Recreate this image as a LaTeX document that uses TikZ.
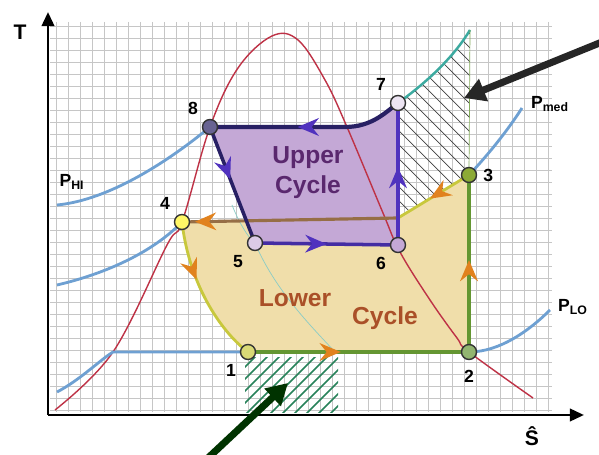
\documentclass[tikz,border=0pt]{standalone}
\usepackage{fontspec}
\setmainfont{Liberation Sans}
\usepackage{tikz}
\usetikzlibrary{arrows.meta, decorations.markings, calc}
\definecolor{upper_fill}{RGB}{196, 168, 214}
\definecolor{upper_line}{RGB}{40, 32, 100}
\definecolor{upper_arrow}{RGB}{80, 50, 190}
\definecolor{lower_fill}{RGB}{240, 222, 170}
\definecolor{lower_line}{RGB}{100, 150, 50}
\definecolor{lower_curve}{RGB}{200, 200, 60}
\definecolor{lower_arrow}{RGB}{225, 130, 30}
\definecolor{band_brown}{RGB}{150, 110, 70}
\definecolor{dome_red}{RGB}{190, 50, 70}
\definecolor{iso_blue}{RGB}{110, 160, 210}
\definecolor{iso_teal}{RGB}{60, 170, 160}
\definecolor{hatch_green}{RGB}{40, 130, 90}
\definecolor{upper_text}{RGB}{90, 40, 110}
\definecolor{lower_text}{RGB}{170, 80, 40}

\begin{document}
\begin{tikzpicture}[
        x=0.02cm, y=-0.02cm,
        font=\bfseries,
        pt/.style={circle, draw=black!80, thick, minimum size=0.3cm, inner sep=0pt},
        gridline/.style={gray!45, thin},
        flowup/.style={postaction={decorate, decoration={markings,
            mark=at position #1 with {\arrow[upper_arrow]{Stealth[length=12pt, width=10pt]}}}}},
        flowlo/.style={postaction={decorate, decoration={markings,
            mark=at position #1 with {\arrow[lower_arrow]{Stealth[length=12pt, width=10pt]}}}}}
    ]
        \useasboundingbox (0, 0) rectangle (599, 455);
        \fill[white] (0, 0) rectangle (599, 455);

        % -------- Griglia --------
        \foreach \gx in {56, 68, ..., 548}{
            \draw[gridline] (\gx, 22) -- (\gx, 412);
        }
        \foreach \gy in {26, 38, ..., 410}{
            \draw[gridline] (50, \gy) -- (552, \gy);
        }

        % -------- Punti del ciclo (pixel) --------
        \coordinate (c1) at (248, 352);
        \coordinate (c2) at (469, 352);
        \coordinate (c3) at (469, 175);
        \coordinate (c4) at (182, 222);
        \coordinate (c5) at (255, 243);
        \coordinate (c6) at (398, 245);
        \coordinate (c7) at (398, 103);
        \coordinate (c8) at (210, 127);
        \coordinate (cj) at (398, 218);
        \coordinate (ck) at (345, 127);
        \coordinate (ctop) at (470, 30);

        % -------- Aree --------
        \fill[lower_fill] (c4) .. controls (190, 290) and (225, 335) .. (c1) -- (c2) -- (c3) -- (cj) -- cycle;
        \fill[upper_fill] (c8) -- (ck) .. controls (372, 127) and (386, 112) .. (c7) -- (c6) -- (c5) -- cycle;

        % tratteggio in alto
        \begin{scope}
            \clip (c7) .. controls (430, 80) and (455, 55) .. (ctop) -- (c3) -- (cj) -- cycle;
            \foreach \k in {170, 184, ..., 450}{
                \draw[black!75, thin] (\k, 0) -- ++(300, 300);
            }
        \end{scope}

        % tratteggio in basso
        \begin{scope}
            \clip (245, 358) rectangle (338, 413);
            \foreach \k in {180, 192, ..., 340}{
                \draw[hatch_green, line width=0.9pt] (\k, 420) -- ++(100, -100);
            }
        \end{scope}

        % -------- Curve --------
        \draw[dome_red, thick] plot[smooth, tension=0.6] coordinates {
            (55, 410) (113, 352) (167, 245) (182, 222) (210, 127) (238, 68) (272, 36)
            (298, 40) (325, 80) (347, 127) (383, 213) (400, 252) (430, 300) (457, 338)
            (469, 352) (533, 398)};
        \draw[iso_teal!60, thin] (232, 205) .. controls (240, 225) and (250, 240) .. (c5)
            .. controls (275, 290) and (310, 325) .. (335, 352);
        \draw[iso_blue, line width=1.6pt] (57, 205) .. controls (110, 200) and (170, 160) .. (c8);
        \draw[iso_blue, line width=1.6pt] (57, 285) .. controls (100, 275) and (150, 255) .. (c4);
        \draw[iso_blue, line width=1.6pt] (57, 392) .. controls (80, 380) and (100, 360) .. (113, 352) -- (c1);
        \draw[iso_blue, line width=1.6pt] (c3) .. controls (488, 155) and (508, 130) .. (522, 108);
        \draw[iso_blue, line width=1.6pt] (c2) .. controls (500, 352) and (530, 330) .. (550, 310);
        \draw[iso_teal, line width=1.4pt] (c7) .. controls (430, 80) and (455, 55) .. (ctop);
        \draw[lower_line!80, thin] (ctop) -- (c3);

        % -------- Ciclo inferiore --------
        \draw[lower_curve, line width=1.6pt, flowlo=0.4] (c4) .. controls (190, 290) and (225, 335) .. (c1);
        \draw[lower_line, line width=2pt, flowlo=0.42] (c1) -- (c2);
        \draw[lower_line, line width=2pt, flowlo=0.52] (c2) -- (c3);
        \draw[lower_curve, line width=1.6pt, flowlo=0.55] (c3) -- (cj);
        \draw[band_brown, line width=1.8pt, flowlo=0.94] (cj) -- (c4);

        % -------- Ciclo superiore --------
        \draw[upper_line, line width=2.4pt, flowup=0.55] (c7) .. controls (386, 112) and (372, 127) .. (ck) -- (c8);
        \draw[upper_line, line width=2pt, flowup=0.45] (c8) -- (c5);
        \draw[upper_arrow!70!upper_line, line width=2pt, flowup=0.5] (c5) -- (c6);
        \draw[upper_arrow, line width=2pt, flowup=0.55] (c6) -- (c7);

        % -------- Punti (ognuno con label) --------
        \node[pt, fill=lower_curve!70, label={below left:1}] (p1) at (c1) {};
        \node[pt, fill=lower_line!70, label={[yshift=-2pt]below:2}] (p2) at (c2) {};
        \node[pt, fill=lower_line!60!lower_curve, label={right:3}] (p3) at (c3) {};
        \node[pt, fill=yellow!60, label={above left:4}] (p4) at (c4) {};
        \node[pt, fill=upper_fill!60, label={below left:5}] (p5) at (c5) {};
        \node[pt, fill=upper_fill, label={below left:6}] (p6) at (c6) {};
        \node[pt, fill=upper_fill!30, label={above left:7}] (p7) at (c7) {};
        \node[pt, fill=upper_line!70, label={above left:8}] (p8) at (c8) {};

        % -------- Testi --------
        \node[upper_text, align=center, font=\bfseries\fontsize{14}{17}\selectfont] (upperlab) at (308, 173) {Upper\\Cycle};
        \node[lower_text, font=\bfseries\fontsize{14}{17}\selectfont] (lowerlab) at (295, 298) {Lower};
        \node[lower_text, font=\bfseries\fontsize{14}{17}\selectfont] (cyclelab) at (385, 318) {Cycle};
        \node (phi) at (72, 182) {P\textsubscript{HI}};
        \node (pmed) at (550, 104) {P\textsubscript{med}};
        \node (plo) at (573, 307) {P\textsubscript{LO}};

        % -------- Assi --------
        \coordinate (o) at (48, 415);
        \coordinate (ytop) at (48, 12);
        \coordinate (xend) at (584, 415);
        \draw[-{Triangle[length=8pt, width=7pt]}, line width=1.6pt] (o) -- (ytop);
        \draw[-{Triangle[length=8pt, width=7pt]}, line width=1.6pt] (o) -- (xend);
        \node[font=\bfseries\large] (tlab) at (20, 32) {T};
        \node[font=\bfseries\large] (slab) at (532, 436) {Ŝ};

        % -------- Frecce indicatrici --------
        \coordinate (a1s) at (602, 42);
        \coordinate (a1e) at (464, 98);
        \coordinate (a2s) at (208, 458);
        \coordinate (a2e) at (288, 383);
        \draw[-{Triangle[length=12pt, width=13pt]}, line width=4pt, black!85] (a1s) -- (a1e);
        \draw[-{Triangle[length=12pt, width=13pt]}, line width=4pt, green!20!black] (a2s) -- (a2e);
    \end{tikzpicture}
\end{document}
